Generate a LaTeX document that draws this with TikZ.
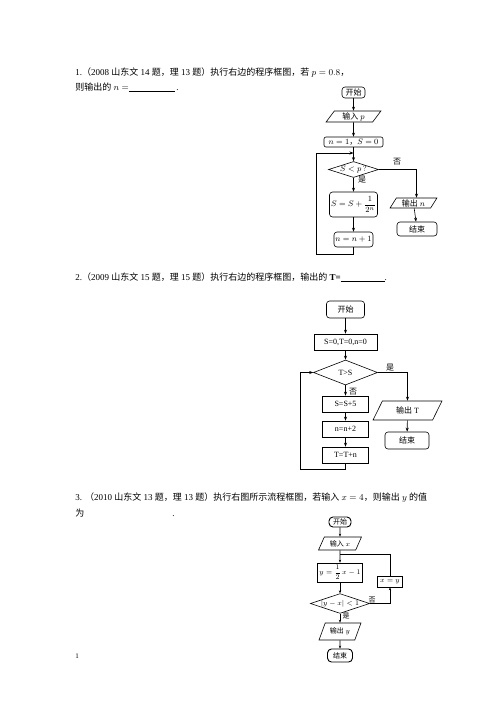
\documentclass[tikz,border=0pt]{standalone}
\usepackage{fontspec}
\setmainfont{Liberation Serif}
\newfontfamily\cj{Noto Sans CJK SC}
\usetikzlibrary{shapes.geometric,arrows.meta}
\begin{document}
\begin{tikzpicture}[x=1pt,y=-1pt,line width=0.6pt,
  arr/.style={-{Stealth[length=4pt,width=3pt]}},
  sarr/.style={-{Stealth[length=3pt,width=2.4pt]}},
  term/.style={draw,rounded corners=3pt,inner sep=0pt},
  proc/.style={draw,inner sep=0pt},
  io/.style={draw,trapezium,trapezium left angle=60,trapezium right angle=120,trapezium stretches=true,inner sep=0pt},
  dec/.style={draw,diamond,aspect=3,inner sep=0pt},
  txt/.style={anchor=base west,inner sep=0pt,font=\fontsize{9}{11}\selectfont},
  lbl/.style={inner sep=0pt}]
\useasboundingbox (0,0) rectangle (496,702);
\fill[white] (0,0) rectangle (496,702);

% ---------- texts ----------
\node[txt] (t1) at (75,75) {1.{\cj （}2008 {\cj 山东文} 14 {\cj 题，理} 13 {\cj 题）执行右边的程序框图，若} $p=0.8${\cj ，}};
\node[txt] (t2) at (75,90) {{\cj 则输出的} $n=$\rule[-1.5pt]{46pt}{0.5pt}\,.};
\node[txt] (t3) at (75,280) {2.{\cj （}2009 {\cj 山东文} 15 {\cj 题，理} 15 {\cj 题）执行右边的程序框图，输出的} \textbf{T=}\rule[-1.5pt]{44pt}{0.5pt}.};
\node[txt] (t4) at (75,500) {3. {\cj （}2010 {\cj 山东文} 13 {\cj 题，理} 13 {\cj 题）执行右图所示流程框图，若输入} $x=4${\cj ，则输出} $y$ {\cj 的值}};
\node[txt] (t5) at (75,516) {{\cj 为}\hspace{88pt}.};
\node[txt,font=\fontsize{7}{8}\selectfont] (pg) at (75,658) {1};

% ---------- chart 1 ----------
\begin{scope}[font=\fontsize{8}{10}\selectfont]
\node[term,minimum width=23,minimum height=11] (a1) at (353.5,92.5) {\cj 开始};
\node[io,minimum width=55,minimum height=11] (a2) at (353.5,116.5) {{\cj 输入} $p$};
\node[term,rounded corners=2pt,minimum width=59,minimum height=10] (a3) at (353.5,142) {$n=1${\cj ，}$S=0$};
\node[dec,minimum width=50,minimum height=15] (a4) at (353.5,169.5) {$S<p\,?$};
\node[term,minimum width=48,minimum height=25] (a5) at (353.5,204.5) {$\displaystyle S=S+\frac{1}{2^n}$};
\node[term,minimum width=39,minimum height=15] (a6) at (353.5,239.5) {$n=n+1$};
\node[io,minimum width=47,minimum height=10] (a7) at (413.5,203) {{\cj 输出} $n$};
\node[term,minimum width=40,minimum height=14] (a8) at (417,229) {\cj 结束};
\node[lbl] (a9) at (397,162) {\cj 否};
\node[lbl] (a10) at (362,180) {\cj 是};
\coordinate (j1) at (353.5,153);
\coordinate (l1) at (316,254);
\draw[arr] (a1) -- (a2);
\draw[arr] (a2) -- (a3);
\draw[arr] (a3) -- (a4);
\draw[arr] (a4) -- (a5);
\draw[arr] (a5) -- (a6);
\draw[arr] (a7) -- (a8);
\draw[arr] (a4.east) -| ([xshift=3pt]a7.north);
\draw[arr] (a6.south) |- (l1) |- (j1);
\end{scope}

% ---------- chart 2 ----------
\begin{scope}[font=\fontsize{8}{10}\selectfont]
\node[term,minimum width=38,minimum height=17] (b1) at (345.5,309.5) {\cj 开始};
\node[proc,minimum width=63,minimum height=16] (b2) at (345.5,342) {S=0,T=0,n=0};
\node[dec,minimum width=64,minimum height=25] (b3) at (345.5,372.5) {T>S};
\node[proc,minimum width=46,minimum height=16] (b4) at (345.5,404) {S=S+5};
\node[proc,minimum width=46,minimum height=16] (b5) at (345.5,429) {n=n+2};
\node[proc,minimum width=46,minimum height=16] (b6) at (345.5,455) {T=T+n};
\node[io,minimum width=69,minimum height=19] (b7) at (407.5,410.5) {{\cj 输出} T};
\node[term,minimum width=44,minimum height=17] (b8) at (407,440.5) {\cj 结束};
\node[lbl] (b9) at (390,368) {\cj 是};
\node[lbl] (b10) at (353,392) {\cj 否};
\coordinate (l2) at (300.7,469);
\draw[arr] (b1) -- (b2);
\draw[arr] (b2) -- (b3);
\draw[arr] (b3) -- (b4);
\draw[arr] (b4) -- (b5);
\draw[arr] (b5) -- (b6);
\draw[arr] (b7) -- (b8);
\draw[arr] (b3.east) -| (b7.north);
\draw[arr] (b6.south) |- (l2) |- (b3.west);
\end{scope}

% ---------- chart 3 ----------
\begin{scope}[font=\fontsize{7}{8}\selectfont]
\node[term,rounded corners=4pt,line width=0.9pt,minimum width=22,minimum height=10] (c1) at (340,522) {\cj 开始};
\node[io,minimum width=43,minimum height=13] (c2) at (340,543.5) {{\cj 输入} $x$};
\node[proc,minimum width=45,minimum height=19] (c3) at (340,572.5) {$\displaystyle y=\frac{1}{2}\,x-1$};
\node[dec,minimum width=41,minimum height=17] (c4) at (340,603.5) {$|y-x|<1$};
\node[io,minimum width=42,minimum height=17] (c5) at (340,631.5) {{\cj 输出} $y$};
\node[term,rounded corners=4pt,line width=0.9pt,minimum width=25,minimum height=13] (c6) at (340,655.5) {\cj 结束};
\node[proc,minimum width=25,minimum height=11] (c7) at (390,581.5) {$x=y$};
\node[lbl] (c8) at (372,600) {\cj 否};
\node[lbl] (c9) at (346,616) {\cj 是};
\coordinate (j3) at (340,554);
\draw[sarr] (c1) -- (c2);
\draw[sarr] (c2) -- (c3);
\draw[sarr] (c3) -- (c4);
\draw[sarr] (c4) -- (c5);
\draw[sarr] (c5) -- (c6);
\draw[sarr] (c4.east) -| (c7.south);
\draw (c7.north) |- (j3);
\end{scope}
\end{tikzpicture}
\end{document}
